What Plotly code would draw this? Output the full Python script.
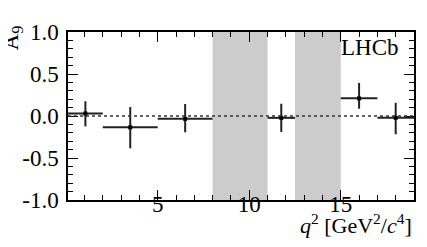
import plotly.graph_objects as go

bin_lo = [0.1, 2.0, 5.0, 11.0, 15.0, 17.0]
bin_hi = [2.0, 5.0, 8.0, 12.5, 17.0, 19.0]
a9 = [0.03, -0.135, -0.034, -0.022, 0.21, -0.022]
err_up = [0.146, 0.241, 0.177, 0.168, 0.183, 0.179]
err_dn = [0.154, 0.250, 0.160, 0.168, 0.123, 0.195]
vetoed = [(8.0, 11.0), (12.5, 15.0)]
ytick_vals = [-1.0, -0.5, 0.0, 0.5, 1.0]
ytick_text = ["-1.0", "-0.5", "0.0", "0.5", "1.0"]
xtick_vals = [5, 10, 15]
xtick_text = ["5", "10", "15"]

centers = [(a + b) / 2 for a, b in zip(bin_lo, bin_hi)]
halfw = [(b - a) / 2 for a, b in zip(bin_lo, bin_hi)]

FONT = "Liberation Serif"
fig = go.Figure()
fig.add_trace(go.Scatter(
    x=centers, y=a9, mode="markers",
    marker=dict(symbol="square", size=4, color="black"),
    error_x=dict(type="data", array=halfw, width=0, thickness=2, color="#222222"),
    error_y=dict(type="data", symmetric=False, array=err_up, arrayminus=err_dn,
                 width=0, thickness=2, color="#222222"),
    showlegend=False,
))

shapes = []
for a, b in vetoed:
    shapes.append(dict(type="rect", xref="x", yref="y", x0=a, x1=b, y0=-1, y1=1,
                       fillcolor="#cccccc", line=dict(width=0), layer="below"))
shapes.append(dict(type="line", xref="paper", yref="y", x0=0, x1=1, y0=0, y1=0,
                   line=dict(color="#333333", width=1.5, dash="dot"), layer="above"))

axis_common = dict(showline=True, linecolor="black", linewidth=1.5, mirror="allticks",
                   ticks="inside", tickcolor="black", tickwidth=1.2, showgrid=False,
                   zeroline=False, tickfont=dict(family=FONT, size=23, color="black"))

fig.update_layout(
    width=427, height=247,
    margin=dict(l=60, r=21, t=13, b=55),
    paper_bgcolor="white", plot_bgcolor="white",
    shapes=shapes,
    xaxis=dict(range=[0.1, 19], tickvals=xtick_vals, ticktext=xtick_text, ticklen=10,
               ticklabelstandoff=-17,
               minor=dict(dtick=1, tick0=0, ticks="inside", ticklen=5, tickcolor="black",
                          tickwidth=1.2, showgrid=False),
               **axis_common),
    yaxis=dict(range=[-1, 1], tickvals=ytick_vals, ticktext=ytick_text, ticklen=10,
               ticklabelstandoff=3,
               minor=dict(dtick=0.1, tick0=0, ticks="inside", ticklen=5, tickcolor="black",
                          tickwidth=1.2, showgrid=False),
               **axis_common),
    annotations=[
        dict(text="<i>q</i><sup>2</sup> [GeV<sup>2</sup>/<i>c</i><sup>4</sup>]",
             xref="paper", yref="paper", x=1.0, y=-0.14, xanchor="right", yanchor="middle",
             showarrow=False, font=dict(family=FONT, size=22, color="black")),
        dict(text="A<sub>9</sub>", textangle=-90, xref="paper", yref="paper",
             x=-0.163, y=0.965, xanchor="center", yanchor="middle",
             showarrow=False, font=dict(family=FONT, size=23, color="black")),
        dict(text="LHCb", xref="paper", yref="paper", x=0.961, y=0.906,
             xanchor="right", yanchor="middle",
             showarrow=False, font=dict(family=FONT, size=23, color="black")),
    ],
)

fig.write_html("out.html")
